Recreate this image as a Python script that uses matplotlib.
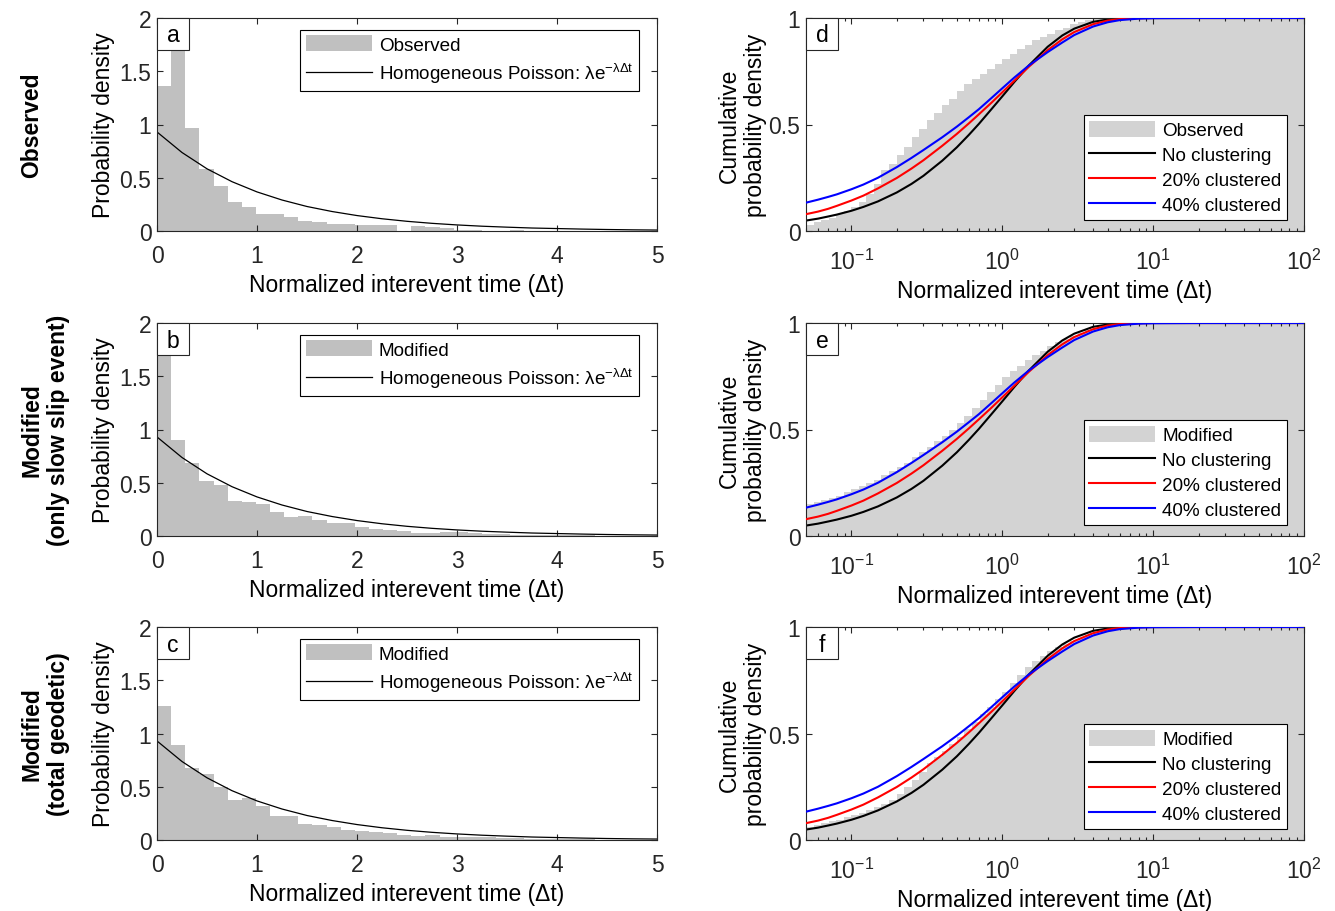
import numpy as np
import matplotlib
matplotlib.use('Agg')
import matplotlib.pyplot as plt
from matplotlib.patches import Rectangle
from matplotlib.ticker import FormatStrFormatter, LogLocator, NullFormatter

plt.rcParams['font.family'] = ['Liberation Sans', 'DejaVu Sans']
plt.rcParams['mathtext.fontset'] = 'custom'
plt.rcParams['mathtext.rm'] = 'Liberation Sans'
plt.rcParams['mathtext.it'] = 'Liberation Sans:italic'
plt.rcParams['mathtext.default'] = 'regular'

# histogram bin width of the left panels (normalized time units)
bin_width = 0.1413

hist_observed = [1.36, 1.75, 0.97, 0.58, 0.42, 0.27, 0.23, 0.16, 0.16, 0.13,
                 0.094, 0.084, 0.063, 0.07, 0.053, 0.053, 0.053, 0.0, 0.044, 0.04,
                 0.03, 0.01, 0.01, 0.0, 0.0, 0.01, 0.0, 0.0, 0.0, 0.0,
                 0.0, 0.0, 0.0, 0.0, 0.0]
hist_slow_slip = [1.78, 0.90, 0.69, 0.52, 0.48, 0.33, 0.32, 0.30, 0.23, 0.18,
                  0.19, 0.15, 0.12, 0.12, 0.084, 0.07, 0.06, 0.044, 0.028, 0.028,
                  0.037, 0.037, 0.028, 0.02, 0.015, 0.012, 0.01, 0.01, 0.008, 0.005,
                  0.005, 0.0, 0.0, 0.0, 0.0]
hist_geodetic = [1.26, 0.89, 0.68, 0.62, 0.50, 0.38, 0.39, 0.32, 0.23, 0.23,
                 0.15, 0.14, 0.125, 0.094, 0.085, 0.078, 0.069, 0.044, 0.038, 0.044,
                 0.031, 0.031, 0.028, 0.028, 0.022, 0.016, 0.012, 0.01, 0.008, 0.006,
                 0.005, 0.004, 0.003, 0.0, 0.0]

# homogeneous Poisson pdf
poisson_t = [0, 0.25, 0.5, 0.75, 1.0, 1.25, 1.5, 1.75, 2.0, 2.25, 2.5,
             2.75, 3.0, 3.25, 3.5, 3.75, 4.0, 4.25, 4.5, 4.75, 5.0]
poisson_pdf = [0.930, 0.737, 0.584, 0.463, 0.367, 0.291, 0.230, 0.183, 0.145, 0.115, 0.091,
               0.072, 0.057, 0.045, 0.036, 0.028, 0.023, 0.018, 0.014, 0.011, 0.009]

# cumulative histograms (log spaced bins, 20 per decade from 0.05 to 100)
cum_observed = [0.03, 0.04, 0.05, 0.063, 0.078, 0.095, 0.115, 0.136, 0.175, 0.222,
                0.285, 0.316, 0.355, 0.394, 0.441, 0.48, 0.523, 0.554, 0.59, 0.621,
                0.657, 0.692, 0.715, 0.739, 0.762, 0.786, 0.809, 0.833, 0.853, 0.872,
                0.895, 0.91, 0.925, 0.945, 0.955, 0.97, 0.98, 0.99, 0.995] + [1.0] * 27
cum_slow_slip = [0.15, 0.16, 0.17, 0.18, 0.19, 0.205, 0.22, 0.235, 0.25, 0.265,
                 0.285, 0.305, 0.325, 0.345, 0.37, 0.395, 0.42, 0.445, 0.47, 0.50,
                 0.53, 0.565, 0.60, 0.64, 0.675, 0.71, 0.745, 0.775, 0.80, 0.825,
                 0.85, 0.87, 0.89, 0.91, 0.925, 0.94, 0.955, 0.965, 0.975, 0.982,
                 0.988, 0.993, 0.996, 0.998] + [1.0] * 22
cum_geodetic = [0.063, 0.07, 0.078, 0.087, 0.096, 0.106, 0.117, 0.128, 0.14, 0.155,
                0.17, 0.19, 0.215, 0.25, 0.28, 0.32, 0.36, 0.39, 0.42, 0.45,
                0.485, 0.52, 0.555, 0.59, 0.625, 0.66, 0.695, 0.735, 0.775, 0.81,
                0.84, 0.865, 0.885, 0.905, 0.92, 0.935, 0.95, 0.962, 0.972, 0.98,
                0.987, 0.992, 0.996, 0.998] + [1.0] * 22

# model CDFs
cdf_t = [0.05, 0.06, 0.07, 0.08, 0.1, 0.12, 0.15, 0.2, 0.25, 0.3, 0.4, 0.5, 0.6, 0.7,
         0.85, 1.0, 1.2, 1.5, 2.0, 2.5, 3.0, 4.0, 5.0, 6.0, 8.0, 10.0, 20.0, 100.0]
cdf_none = [0.049, 0.058, 0.068, 0.077, 0.095, 0.113, 0.139, 0.181, 0.221, 0.259, 0.330, 0.393, 0.451, 0.503,
            0.573, 0.632, 0.699, 0.777, 0.865, 0.918, 0.950, 0.982, 0.993, 0.998, 1.0, 1.0, 1.0, 1.0]
cdf_20 = [0.079, 0.091, 0.104, 0.118, 0.143, 0.166, 0.200, 0.249, 0.293, 0.332, 0.400, 0.456, 0.505, 0.548,
          0.603, 0.651, 0.705, 0.771, 0.849, 0.900, 0.934, 0.971, 0.988, 0.995, 0.999, 1.0, 1.0, 1.0]
cdf_40 = [0.133, 0.147, 0.160, 0.172, 0.196, 0.218, 0.250, 0.300, 0.343, 0.380, 0.440, 0.490, 0.534, 0.572,
          0.625, 0.670, 0.720, 0.777, 0.840, 0.885, 0.920, 0.960, 0.980, 0.990, 0.997, 0.999, 1.0, 1.0]

row_titles = ['Observed', 'Modified\n(only slow slip event)', 'Modified\n(total geodetic)']
hist_names = ['Observed', 'Modified', 'Modified']
letters_left = ['a', 'b', 'c']
letters_right = ['d', 'e', 'f']

AX_COLOR = '#262626'
FS = 16.5
LEG_FS = 13.6

W, H = 1335, 912
fig = plt.figure(figsize=(W / 100, H / 100), dpi=100)


def style_axes(ax, xpad):
    for s in ax.spines.values():
        s.set_color(AX_COLOR)
        s.set_linewidth(0.8)
    ax.tick_params(which='both', direction='in', top=True, right=True,
                   colors=AX_COLOR, labelcolor='#262626', labelsize=FS, width=0.8)
    ax.tick_params(which='major', length=4.5)
    ax.tick_params(which='minor', length=2.5)
    ax.tick_params(axis='x', which='major', pad=xpad)
    ax.tick_params(axis='y', which='major', pad=4)


def letter_box(ax, letter, aw, ah):
    ax.add_patch(Rectangle((0, 1 - 32 / ah), 32 / aw, 32 / ah, transform=ax.transAxes,
                           facecolor='white', edgecolor=AX_COLOR, linewidth=0.8,
                           zorder=6, clip_on=False))
    ax.text(16 / aw, 1 - 17 / ah, letter, transform=ax.transAxes, ha='center', va='center',
            fontsize=FS, zorder=7)


def add_legend(ax, handles, **kw):
    leg = ax.legend(handles=handles, borderaxespad=0, fontsize=LEG_FS, fancybox=False,
                    framealpha=1, edgecolor='k', handlelength=3.5, handleheight=0.95,
                    handletextpad=0.35, borderpad=0.3, **kw)
    leg.get_frame().set_linewidth(0.8)
    leg.set_zorder(5)


def hist_panel(ax, heights, name, letter):
    edges = np.arange(len(heights) + 1) * bin_width
    bars = ax.bar(edges[:-1], heights, width=bin_width, align='edge', color='#c0c0c0',
                  linewidth=0, label=name, zorder=1)
    line, = ax.plot(poisson_t, poisson_pdf, color='k', linewidth=0.9,
                    label='Homogeneous Poisson: $\\lambda$e$^{-\\lambda\\Delta t}$', zorder=2)
    ax.set_xlim(0, 5)
    ax.set_ylim(0, 2)
    ax.set_xticks([0, 1, 2, 3, 4, 5])
    ax.set_yticks([0, 0.5, 1, 1.5, 2])
    ax.yaxis.set_major_formatter(FormatStrFormatter('%g'))
    style_axes(ax, 9.5)
    ax.set_xlabel('Normalized interevent time (\u0394t)', fontsize=FS, labelpad=4)
    ax.set_ylabel('Probability density', fontsize=FS, labelpad=3)
    add_legend(ax, [bars, line], loc='upper right',
               bbox_to_anchor=(1 - 18 / 500, 1 - 11.5 / 213), labelspacing=0.4)
    letter_box(ax, letter, 500, 213)


def cdf_panel(ax, cum, name, letter):
    edges = np.logspace(np.log10(0.05), 2, len(cum) + 1)
    bars = ax.bar(edges[:-1], cum, width=np.diff(edges), align='edge', color='#d3d3d3',
                  linewidth=0, label=name, zorder=1)
    l0, = ax.plot(cdf_t, cdf_none, color='k', linewidth=1.5, label='No clustering', zorder=2)
    l1, = ax.plot(cdf_t, cdf_20, color='r', linewidth=1.5, label='20% clustered', zorder=3)
    l2, = ax.plot(cdf_t, cdf_40, color='b', linewidth=1.5, label='40% clustered', zorder=4)
    ax.set_xscale('log')
    ax.set_xlim(0.05, 100)
    ax.set_ylim(0, 1)
    ax.xaxis.set_major_locator(LogLocator(base=10, numticks=10))
    ax.xaxis.set_minor_locator(LogLocator(base=10, subs=np.arange(2, 10), numticks=20))
    ax.xaxis.set_minor_formatter(NullFormatter())
    ax.set_yticks([0, 0.5, 1])
    ax.yaxis.set_major_formatter(FormatStrFormatter('%g'))
    style_axes(ax, 12.4)
    ax.set_xlabel('Normalized interevent time (\u0394t)', fontsize=FS, labelpad=4)
    ax.set_ylabel('Cumulative\nprobability density', fontsize=FS, labelpad=1)
    add_legend(ax, [bars, l0, l1, l2], loc='lower right',
               bbox_to_anchor=(1 - 17 / 498, 11.5 / 213), labelspacing=0.33)
    letter_box(ax, letter, 498, 213)


hists = [hist_observed, hist_slow_slip, hist_geodetic]
cums = [cum_observed, cum_slow_slip, cum_geodetic]
row_tops = [19, 324, 628]

for i in range(3):
    top = row_tops[i]
    bottom = 1 - (top + 213) / H
    ax_l = fig.add_axes([157 / W, bottom, 500 / W, 213 / H])
    hist_panel(ax_l, hists[i], hist_names[i], letters_left[i])
    ax_r = fig.add_axes([806 / W, bottom, 498 / W, 213 / H])
    cdf_panel(ax_r, cums[i], hist_names[i], letters_right[i])
    fig.text(20 / W, 1 - (top + 106) / H, row_titles[i], rotation=90, ha='left', va='center',
             fontsize=FS, fontweight='bold', multialignment='center')

fig.savefig('out.png', dpi=100)
